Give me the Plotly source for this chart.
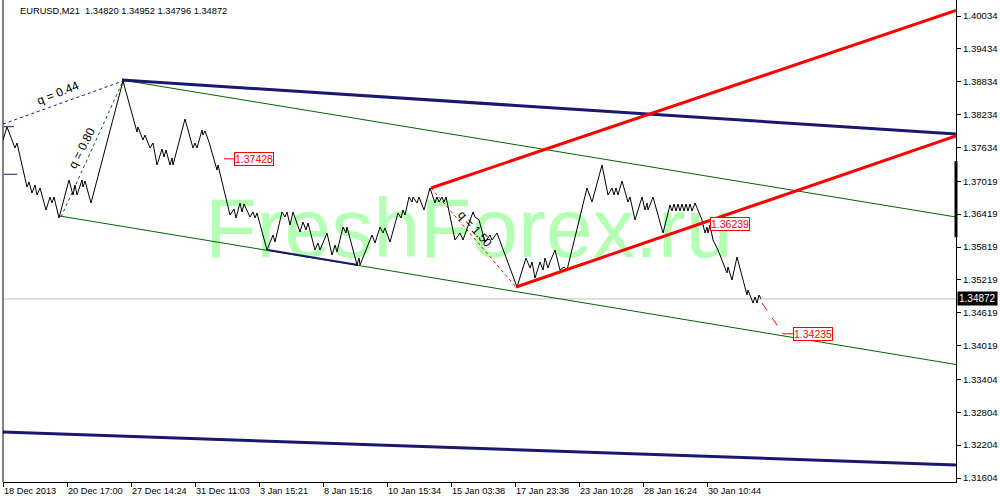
import plotly.graph_objects as go

# ---------------- data ----------------
title_text = "EURUSD,M21  1.34820 1.34952 1.34796 1.34872"
last_close = 1.34872

bars = [0, 4, 12, 14, 24, 26, 29, 32, 34, 37, 43, 47, 49, 51, 56, 66, 70, 72, 74, 79, 80, 82, 88,
        120, 134, 135, 140, 142, 147, 150, 154, 159, 161, 163, 167, 169, 170, 182, 190, 192, 194,
        199, 200, 202, 206, 214, 215, 227, 231, 233, 237, 239, 241, 247, 250, 252, 254, 264, 270,
        272, 279, 282, 284, 287, 290, 297, 300, 303, 305, 312, 315, 317, 324, 329, 332, 334, 340,
        343, 344, 354, 356, 357, 369, 372, 377, 380, 382, 387, 395, 398, 400, 402, 406, 409, 410,
        414, 416, 421, 427, 432, 434, 436, 439, 441, 443, 452, 457, 460, 470, 472, 476, 482, 487,
        489, 494, 514, 523, 527, 529, 532, 537, 540, 542, 545, 547, 552, 557, 561, 564, 584, 589,
        599, 605, 609, 611, 613, 615, 619, 625, 627, 632, 639, 642, 644, 645, 650, 660, 667, 669,
        671, 673, 675, 677, 679, 681, 683, 685, 687, 689, 692, 699, 702, 704, 705, 707, 710, 715,
        724, 725, 729, 734, 744, 745, 750, 752, 754, 756, 758]
prices = [1.37771, 1.38009, 1.37625, 1.37717, 1.36914, 1.37005, 1.36804, 1.36950, 1.36768, 1.36896,
          1.36494, 1.36731, 1.36622, 1.36731, 1.36348, 1.37042, 1.36768, 1.36950, 1.36768, 1.37042,
          1.36914, 1.37023, 1.36622,
          1.38848, 1.37917, 1.38009, 1.37771, 1.37863, 1.37625, 1.37717, 1.37315, 1.37607, 1.37461,
          1.37589, 1.37315, 1.37443, 1.37315, 1.38155, 1.37625, 1.37717, 1.37625,
          1.37954, 1.37863, 1.37936, 1.37735, 1.37224, 1.37315, 1.36403, 1.36512, 1.36348, 1.36622,
          1.36458, 1.36604, 1.36366, 1.36458, 1.36348, 1.36439, 1.35764, 1.36038,
          1.35910, 1.36458, 1.36366, 1.36458, 1.36220, 1.36458, 1.36093, 1.36275, 1.36129, 1.36257,
          1.35764, 1.35892, 1.35764, 1.36074, 1.35673, 1.35856, 1.35728, 1.36184,
          1.36074, 1.36184, 1.35491, 1.35618, 1.35491, 1.36038, 1.35892, 1.36184, 1.36074, 1.36166,
          1.35910, 1.36439, 1.36348, 1.36494, 1.36403, 1.36731, 1.36640, 1.36731,
          1.36622, 1.36731, 1.36494, 1.36896, 1.36622, 1.36731, 1.36640, 1.36731, 1.36640, 1.36731,
          1.35947, 1.36074, 1.35947, 1.36458, 1.36366, 1.36312, 1.35910, 1.36038,
          1.35947, 1.36074, 1.35089, 1.35618, 1.35436, 1.35545, 1.35253, 1.35545, 1.35399, 1.35618,
          1.35436, 1.35545, 1.35764, 1.35399, 1.35454, 1.35399, 1.36896, 1.36640,
          1.37315, 1.36768, 1.36896, 1.36768, 1.36896, 1.36768, 1.37023, 1.36640, 1.36731, 1.36312,
          1.36731, 1.36494, 1.36622, 1.36494, 1.36731, 1.36074, 1.36585, 1.36476,
          1.36604, 1.36476, 1.36604, 1.36476, 1.36604, 1.36476, 1.36604, 1.36476, 1.36604, 1.36476,
          1.36622, 1.36312, 1.36074, 1.36184, 1.36074, 1.36220, 1.35947, 1.35764,
          1.35345, 1.35454, 1.35217, 1.35637, 1.34943, 1.35034, 1.34797, 1.34907, 1.34797, 1.34943,
          1.34872]

tick_bars = [0, 64, 128, 192, 256, 320, 384, 448, 512, 576, 640, 704]
tick_labels = ["18 Dec 2013", "20 Dec 17:00", "27 Dec 14:24", "31 Dec 11:03", "3 Jan 15:21",
               "8 Jan 15:16", "10 Jan 15:34", "15 Jan 03:38", "17 Jan 23:38", "23 Jan 10:28",
               "28 Jan 16:24", "30 Jan 10:44"]
price_ticks = [1.40034, 1.39434, 1.38834, 1.38234, 1.37634, 1.37019, 1.36419, 1.35819,
               1.35219, 1.34619, 1.34019, 1.33404, 1.32804, 1.32204, 1.31604]
x_range = [0, 953]
y_range = [1.31531, 1.40326]

# channel / trend lines (bar index, price)
navy_top_x, navy_top_y = [119, 953], [1.38866, 1.37881]
navy_bot_x, navy_bot_y = [0, 953], [1.32443, 1.31841]
navy_seg_x, navy_seg_y = [265, 355], [1.35764, 1.35491]
green_top_x, green_top_y = [119, 953], [1.38866, 1.36366]
green_bot_x, green_bot_y = [57, 953], [1.36384, 1.33675]
red_up_x, red_up_y = [428, 953], [1.36896, 1.40134]
red_lo_x, red_lo_y = [513, 953], [1.35089, 1.37844]
navy_dot_x, navy_dot_y = [0, 120], [1.38063, 1.38848]
green_dot_x, green_dot_y = [58, 120], [1.36366, 1.38848]
red_dot_x, red_dot_y = [428, 513], [1.36896, 1.35089]
red_proj_x, red_proj_y = [759, 780], [1.34797, 1.34235]
navy_mark1_x, navy_mark1_y = [1, 11], [1.38014, 1.38014]
navy_mark2_x, navy_mark2_y = [1, 14], [1.37146, 1.37146]

# q labels
q_texts = ["q = 0.44", "q = 0.80", "q = 1.50"]
q_x = [55, 79, 472]
q_y = [1.38629, 1.37625, 1.36147]
q_angles = [-22, -63, 48]

# boxed price labels
lbl_values = [1.37428, 1.36239, 1.34235]
lbl_x = [231, 707, 790]
lead_x = [[221, 231], None, [780, 790]]

side_bar_y = [1.35998, 1.37388]

watermark = "FreshForex.ru"
wm_x, wm_y = 466, 1.36020

# ---------------- figure ----------------
NAVY = "#191970"
GREEN = "#006400"
RED = "#ff0000"
FONT = "Liberation Sans"

fig = go.Figure()

fig.add_trace(go.Scatter(x=[wm_x], y=[wm_y], mode="text", text=[watermark],
                         textfont=dict(family=FONT, size=84, color="#b3ffb3"),
                         hoverinfo="skip", showlegend=False))

def line(x, y, color, width, dash="solid"):
    fig.add_trace(go.Scatter(x=x, y=y, mode="lines", line=dict(color=color, width=width, dash=dash),
                             hoverinfo="skip", showlegend=False))

line(green_top_x, green_top_y, GREEN, 1)
line(green_bot_x, green_bot_y, GREEN, 1)
line(navy_top_x, navy_top_y, NAVY, 3)
line(navy_bot_x, navy_bot_y, NAVY, 3)
line(navy_seg_x, navy_seg_y, NAVY, 2)
line(navy_dot_x, navy_dot_y, NAVY, 1, "dot")
line(green_dot_x, green_dot_y, GREEN, 1, "dot")
line(red_dot_x, red_dot_y, RED, 1, "dot")
line(red_proj_x, red_proj_y, RED, 1, "dash")
line(navy_mark1_x, navy_mark1_y, NAVY, 1)
line(navy_mark2_x, navy_mark2_y, NAVY, 1)

fig.add_trace(go.Scatter(x=bars, y=prices, mode="lines", line=dict(color="black", width=1),
                         hoverinfo="skip", showlegend=False))

line(red_up_x, red_up_y, RED, 3)
line(red_lo_x, red_lo_y, RED, 3)

for lx, v in zip(lead_x, lbl_values):
    if lx:
        line(lx, [v, v], RED, 1)

annotations = []
for t, x, y, a in zip(q_texts, q_x, q_y, q_angles):
    annotations.append(dict(x=x, y=y, text=t, textangle=a, showarrow=False,
                            font=dict(family=FONT, size=12, color="black")))
for v, x in zip(lbl_values, lbl_x):
    annotations.append(dict(x=x, y=v, text=f"{v:.5f}", showarrow=False, xanchor="left",
                            yanchor="middle", bgcolor="white", bordercolor=RED, borderwidth=1,
                            borderpad=0, font=dict(family=FONT, size=10.5, color=RED)))
annotations.append(dict(xref="paper", yref="paper", x=0.0157, y=0.977, text=title_text,
                        showarrow=False, xanchor="left", yanchor="middle",
                        font=dict(family=FONT, size=9.3, color="black")))
annotations.append(dict(xref="paper", x=1, y=last_close, text=f"{last_close:.5f}", showarrow=False,
                        xanchor="left", yanchor="middle", xshift=1, bgcolor="black",
                        borderpad=1, font=dict(family=FONT, size=10, color="white")))

shapes = [
    dict(type="line", xref="paper", x0=0, x1=1, y0=last_close, y1=last_close,
         line=dict(color="#c0c0c0", width=1), layer="below"),
    dict(type="line", xref="paper", yref="paper", x0=0, x1=0, y0=0, y1=1,
         line=dict(color="black", width=1)),
    dict(type="line", xref="paper", x0=1, x1=1, y0=side_bar_y[0], y1=side_bar_y[1],
         line=dict(color="black", width=3)),
]

fig.update_layout(
    width=1000, height=500,
    margin=dict(l=3, r=44, t=0, b=18),
    paper_bgcolor="white", plot_bgcolor="white",
    showlegend=False,
    annotations=annotations, shapes=shapes,
    xaxis=dict(range=x_range, tickvals=tick_bars, ticktext=tick_labels, showgrid=False,
               zeroline=False, showline=True, linecolor="black", linewidth=1,
               ticks="outside", ticklen=4, tickcolor="black", tickangle=0,
               ticklabelposition="outside right", automargin=False,
               tickfont=dict(family=FONT, size=9.2, color="black")),
    yaxis=dict(range=y_range, tickvals=price_ticks, ticktext=[f"{v:.5f}" for v in price_ticks],
               side="right", showgrid=False, zeroline=False, showline=True, linecolor="black",
               linewidth=1, ticks="outside", ticklen=4, tickcolor="black", automargin=False,
               tickfont=dict(family=FONT, size=9.6, color="black")),
)

fig.write_html("out.html", config={"displayModeBar": False},
               post_script="document.body.style.margin='0';")
